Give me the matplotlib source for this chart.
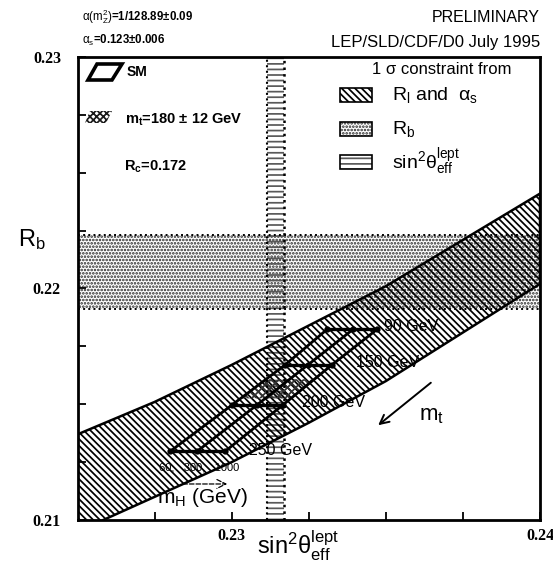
import matplotlib
matplotlib.use("Agg")
import matplotlib.pyplot as plt
from matplotlib.patches import Polygon, Rectangle

plt.rcParams['font.family'] = ['Liberation Sans', 'DejaVu Sans']
plt.rcParams['mathtext.fontset'] = 'custom'
plt.rcParams['mathtext.rm'] = 'Liberation Sans'
plt.rcParams['mathtext.it'] = 'Liberation Sans'
plt.rcParams['mathtext.bf'] = 'Liberation Sans:bold'
plt.rcParams['hatch.linewidth'] = 1.25

# R_l and alpha_s constraint band (edges vs sin^2 theta)
s2_grid = [0.225, 0.2275, 0.23, 0.2325, 0.235, 0.2375, 0.24]
rl_upper = [0.2137, 0.2151, 0.2167, 0.2184, 0.2201, 0.2221, 0.2241]
rl_lower = [0.2095, 0.2110, 0.2125, 0.2142, 0.2160, 0.2181, 0.2202]

# direct measurements
rb_value, rb_error = 0.2207, 0.0016
s2_value, s2_error = 0.23143, 0.00028

# SM prediction grid: rows = m_t, columns = m_H
mt_values = [90, 150, 200, 250]
mh_values = [60, 300, 1000]
sm_rb = [0.21823, 0.21670, 0.21497, 0.21296]
sm_s2 = [[0.23309, 0.23393, 0.23471],
         [0.23173, 0.23247, 0.23325],
         [0.23001, 0.23082, 0.23166],
         [0.22800, 0.22887, 0.22978]]

# m_t = 180 +- 12 GeV region on the SM grid
mt_band_s2 = [0.23111, 0.23268, 0.23191, 0.23029]
mt_band_rb = [0.21608, 0.21608, 0.21525, 0.21525]

RL_HATCH = '\\' * 5
RB_HATCH = '.....'
S2_HATCH = '---'

fig = plt.figure(figsize=(5.53, 5.66), dpi=100)
ax = fig.add_axes([0.1403, 0.0813, 0.8362, 0.818])
ax.set_xlim(0.225, 0.24)
ax.set_ylim(0.21, 0.23)


def axpos(x, y):
    # pixel position on the canvas -> axes fraction
    return (x - 77.6) / 462.4, (520 - y) / 463.0


# R_b band
ax.axhspan(rb_value - rb_error, rb_value + rb_error, facecolor='none',
           edgecolor='0.15', hatch=RB_HATCH, lw=0)
for yb in (rb_value - rb_error, rb_value + rb_error):
    ax.axhline(yb, color='black', ls=':', lw=1.4)

# sin^2 theta band
ax.axvspan(s2_value - s2_error, s2_value + s2_error, facecolor='none',
           edgecolor='0.35', hatch=S2_HATCH, lw=0)
ax.axvline(s2_value - s2_error, color='black', ls=':', lw=1.5)
ax.axvline(s2_value + s2_error, color='black', ls=':', lw=1.8)

# R_l / alpha_s band
ax.fill_between(s2_grid, rl_lower, rl_upper, facecolor='none',
                edgecolor='black', hatch=RL_HATCH, lw=1.8)

# m_t region
ax.add_patch(Polygon(list(zip(mt_band_s2, mt_band_rb)), closed=True,
                     facecolor='none', edgecolor='0.2', hatch='xxxx', lw=0))

# SM grid lines
for i in range(len(mt_values)):
    ax.plot(sm_s2[i], [sm_rb[i]] * len(mh_values), 'k-', lw=2.4,
            marker='o', ms=3.5)
for j in range(len(mh_values)):
    ax.plot([row[j] for row in sm_s2], sm_rb, 'k-', lw=2.0)

offsets = [(5, 2), (17, 2), (14, 2), (17, 1)]
for i, mt in enumerate(mt_values):
    ax.annotate(f'{mt} GeV', (sm_s2[i][-1], sm_rb[i]), xytext=offsets[i],
                textcoords='offset points', fontsize=11.5, va='center')

ax.text(*axpos(159, 468), '60,   300,   1000', transform=ax.transAxes,
        fontsize=8, va='center')
ax.text(*axpos(157, 498), r'$\mathrm{m_H}$ (GeV)', transform=ax.transAxes,
        fontsize=15, va='center')
ax.annotate('', xy=axpos(230, 484), xytext=axpos(180, 484),
            xycoords='axes fraction', textcoords='axes fraction',
            arrowprops=dict(arrowstyle='->', ls='--', lw=0.9,
                            mutation_scale=16))

ax.annotate('', xy=axpos(376, 427), xytext=axpos(433, 381),
            xycoords='axes fraction', textcoords='axes fraction',
            arrowprops=dict(arrowstyle='->', lw=1.4, mutation_scale=16))
ax.text(*axpos(419, 416), r'$\mathrm{m_t}$', transform=ax.transAxes,
        fontsize=16, va='center')

# left legend
sm_icon = [axpos(97, 64), axpos(122, 64), axpos(112, 80), axpos(88, 80)]
ax.add_patch(Polygon(sm_icon, closed=True, facecolor='none',
                     edgecolor='black', lw=2.6, transform=ax.transAxes))
ax.text(*axpos(127, 72), 'SM', transform=ax.transAxes, fontsize=10,
        fontweight='bold', va='center')
mt_icon = [axpos(90, 111), axpos(112, 111), axpos(106, 123), axpos(85, 123)]
ax.add_patch(Polygon(mt_icon, closed=True, facecolor='none',
                     edgecolor='0.1', hatch='xxxxx', lw=0,
                     transform=ax.transAxes))
ax.text(*axpos(125, 120), r'$\mathbf{m_t}$=180 ± 12 GeV',
        transform=ax.transAxes, fontsize=10.5, fontweight='bold', va='center')
ax.text(*axpos(124, 167), r'$\mathbf{R_c}$=0.172', transform=ax.transAxes,
        fontsize=10.5, fontweight='bold', va='center')

# right legend
ax.text(*axpos(372, 70), '1 σ constraint from', transform=ax.transAxes,
        fontsize=12, va='center')
legend_rows = [
    (95, RL_HATCH, 'black', r'$\mathrm{R_l}$ and  $\alpha_s$'),
    (129, RB_HATCH, '0.15', r'$\mathrm{R_b}$'),
    (162, S2_HATCH, '0.35', r'$\mathrm{sin^2\theta_{eff}^{lept}}$'),
]
for yc, hatch, hcol, label in legend_rows:
    x0, y0 = axpos(340, yc + 7)
    ax.add_patch(Rectangle((x0, y0), 32 / 462.4, 14 / 463.0,
                           facecolor='none', edgecolor=hcol, hatch=hatch,
                           lw=0, transform=ax.transAxes))
    ax.add_patch(Rectangle((x0, y0), 32 / 462.4, 14 / 463.0,
                           facecolor='none', edgecolor='black', lw=1.2,
                           transform=ax.transAxes))
    ax.text(*axpos(392, yc), label, transform=ax.transAxes, fontsize=14,
            va='center')

# axes, ticks
for sp in ax.spines.values():
    sp.set_linewidth(2)
ax.set_xticks([0.23, 0.24])
ax.set_xticks([0.2275, 0.2325, 0.235, 0.2375], minor=True)
ax.set_yticks([0.21, 0.22, 0.23])
ax.set_yticks([0.2125, 0.215, 0.2175, 0.2225, 0.225, 0.2275], minor=True)
ax.set_xticklabels(['0.23', '0.24'])
ax.set_yticklabels(['0.21', '0.22', '0.23'])
ax.tick_params(which='both', direction='in', length=6, width=1.3,
               top=False, right=False)
ax.tick_params(axis='y', pad=12)
ax.tick_params(axis='x', pad=6)
for lab in ax.get_xticklabels() + ax.get_yticklabels():
    lab.set_fontfamily('Liberation Serif')
    lab.set_fontweight('bold')
    lab.set_fontsize(11.5)

ax.text(*axpos(18, 240), r'$\mathrm{R_b}$', transform=ax.transAxes,
        fontsize=17, va='center')
ax.text(*axpos(298, 546), r'$\mathrm{sin^2\theta_{eff}^{lept}}$',
        transform=ax.transAxes, fontsize=17, va='center', ha='center')

fig.text(82 / 553, 1 - 17 / 566, r'$\alpha(\mathrm{m_Z^2})$=1/128.89±0.09',
         fontsize=8.3, fontweight='bold', va='center')
fig.text(82 / 553, 1 - 40 / 566, r'$\alpha_\mathrm{s}$=0.123±0.006',
         fontsize=8.3, fontweight='bold', va='center')
fig.text(540 / 553, 1 - 17 / 566, 'PRELIMINARY', fontsize=11.5,
         ha='right', va='center')
fig.text(540 / 553, 1 - 42 / 566, 'LEP/SLD/CDF/D0 July 1995', fontsize=12,
         ha='right', va='center')

fig.savefig('out.png', dpi=100)
